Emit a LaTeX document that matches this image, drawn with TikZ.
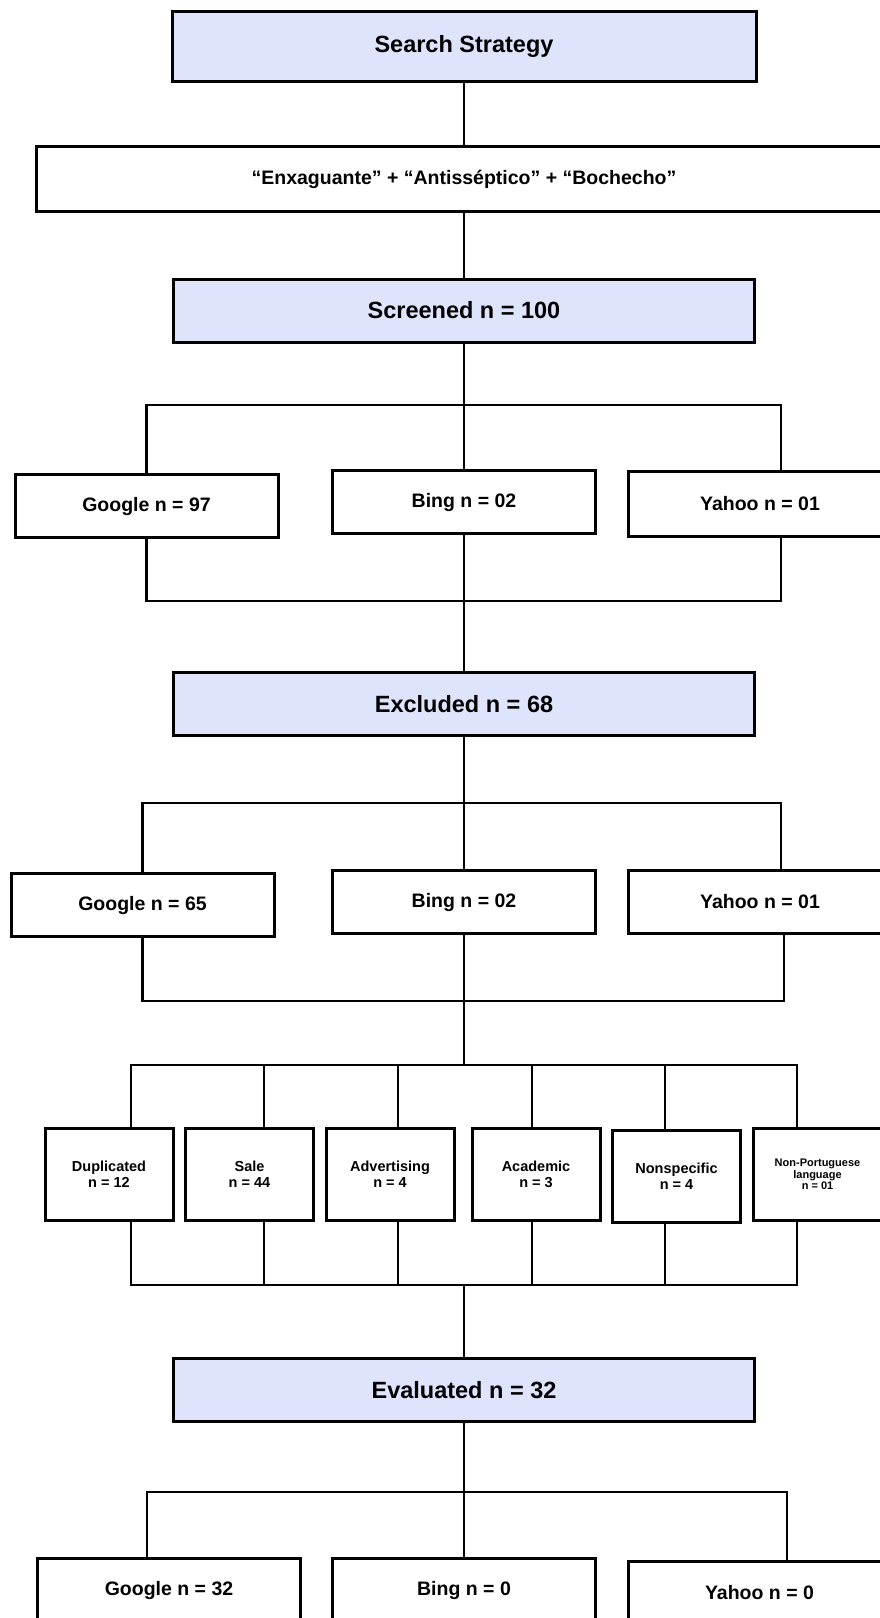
\documentclass[tikz,border=0pt]{standalone}
\usepackage{fontspec}
\setmainfont{Liberation Sans}
\definecolor{prlavender}{RGB}{221,228,252}

\begin{document}
\begin{tikzpicture}[x=1pt,y=-1pt,
  every node/.style={font=\bfseries},
  head/.style={draw,line width=3pt,fill=prlavender,minimum width=581pt,minimum height=63pt,font=\fontsize{23.5}{26}\selectfont\bfseries},
  src/.style={draw,line width=3pt,fill=white,minimum width=263pt,minimum height=63pt,font=\fontsize{19.5}{22}\selectfont\bfseries},
  cat/.style={draw,line width=3pt,fill=white,minimum width=128pt,minimum height=92pt,align=center,font=\fontsize{14.5}{16}\selectfont\bfseries},
  link/.style={line width=2.5pt}
]
\clip (0,0) rectangle (880,1618);

\node[head,minimum width=584pt,minimum height=70pt] (ss) at (464,46.5) {Search Strategy};
\node[src,minimum width=855pt,minimum height=65pt] (kw) at (464,179) {“Enxaguante” + “Antisséptico” + “Bochecho”};
\node[head] (sc) at (464,310.5) {Screened n = 100};

\node[src] (g1) at (146.5,506) {Google n = 97};
\node[src] (b1) at (464,502) {Bing n = 02};
\node[src,minimum height=65pt] (y1) at (760,503.5) {Yahoo n = 01};

\node[head] (ex) at (464,704) {Excluded n = 68};

\node[src] (g2) at (142.5,905) {Google n = 65};
\node[src] (b2) at (464,902) {Bing n = 02};
\node[src] (y2) at (760,902) {Yahoo n = 01};

\node[cat] (du) at (109,1174.5) {Duplicated\\n = 12};
\node[cat] (sa) at (249.5,1174.5) {Sale\\n = 44};
\node[cat] (ad) at (390,1174.5) {Advertising\\n = 4};
\node[cat] (ac) at (536,1174.5) {Academic\\n = 3};
\node[cat] (ns) at (676.5,1176) {Nonspecific\\n = 4};
\node[cat,font=\fontsize{11}{11.5}\selectfont\bfseries] (np) at (817.5,1174.5) {Non-Portuguese\\language\\n = 01};

\node[head] (ev) at (464,1390) {Evaluated n = 32};

\node[src] (g3) at (169,1590) {Google n = 32};
\node[src] (b3) at (464,1590) {Bing n = 0};
\node[src] (y3) at (759.5,1593) {Yahoo n = 0};

% spine
\draw[link] (ss) -- (kw);
\draw[link] (kw) -- (sc);

% screened by engine
\coordinate (t1) at (464,405);
\coordinate (m1) at (464,601);
\draw[link] (sc) -- (b1);
\draw[link] (g1.north) |- (t1) -| ([xshift=21pt]y1.north);
\draw[link] (g1.south) |- (m1) -| ([xshift=21pt]y1.south);
\draw[link] (b1) -- (ex);

% excluded by engine
\coordinate (t2) at (464,803);
\coordinate (m2) at (464,1001);
\draw[link] (ex) -- (b2);
\draw[link] (g2.north) |- (t2) -| ([xshift=21pt]y2.north);
\draw[link] (g2.south) |- (m2) -| ([xshift=24pt]y2.south);

% reasons
\coordinate (t3) at (464,1065);
\coordinate (m3) at (464,1285);
\draw[link] (b2) -- (t3);
\foreach \n/\dx in {du/22,sa/14.5,ad/8,ac/-4,ns/-11.5,np/-20.5}{
  \draw[link] ([xshift=\dx pt]\n.north) |- (t3);
  \draw[link] ([xshift=\dx pt]\n.south) |- (m3);
}
\draw[link] (m3) -- (ev);

% evaluated by engine
\coordinate (t4) at (464,1492);
\draw[link] (ev) -- (b3);
\draw[link] ([xshift=-22pt]g3.north) |- (t4) -| ([xshift=27.5pt]y3.north);
\end{tikzpicture}
\end{document}
